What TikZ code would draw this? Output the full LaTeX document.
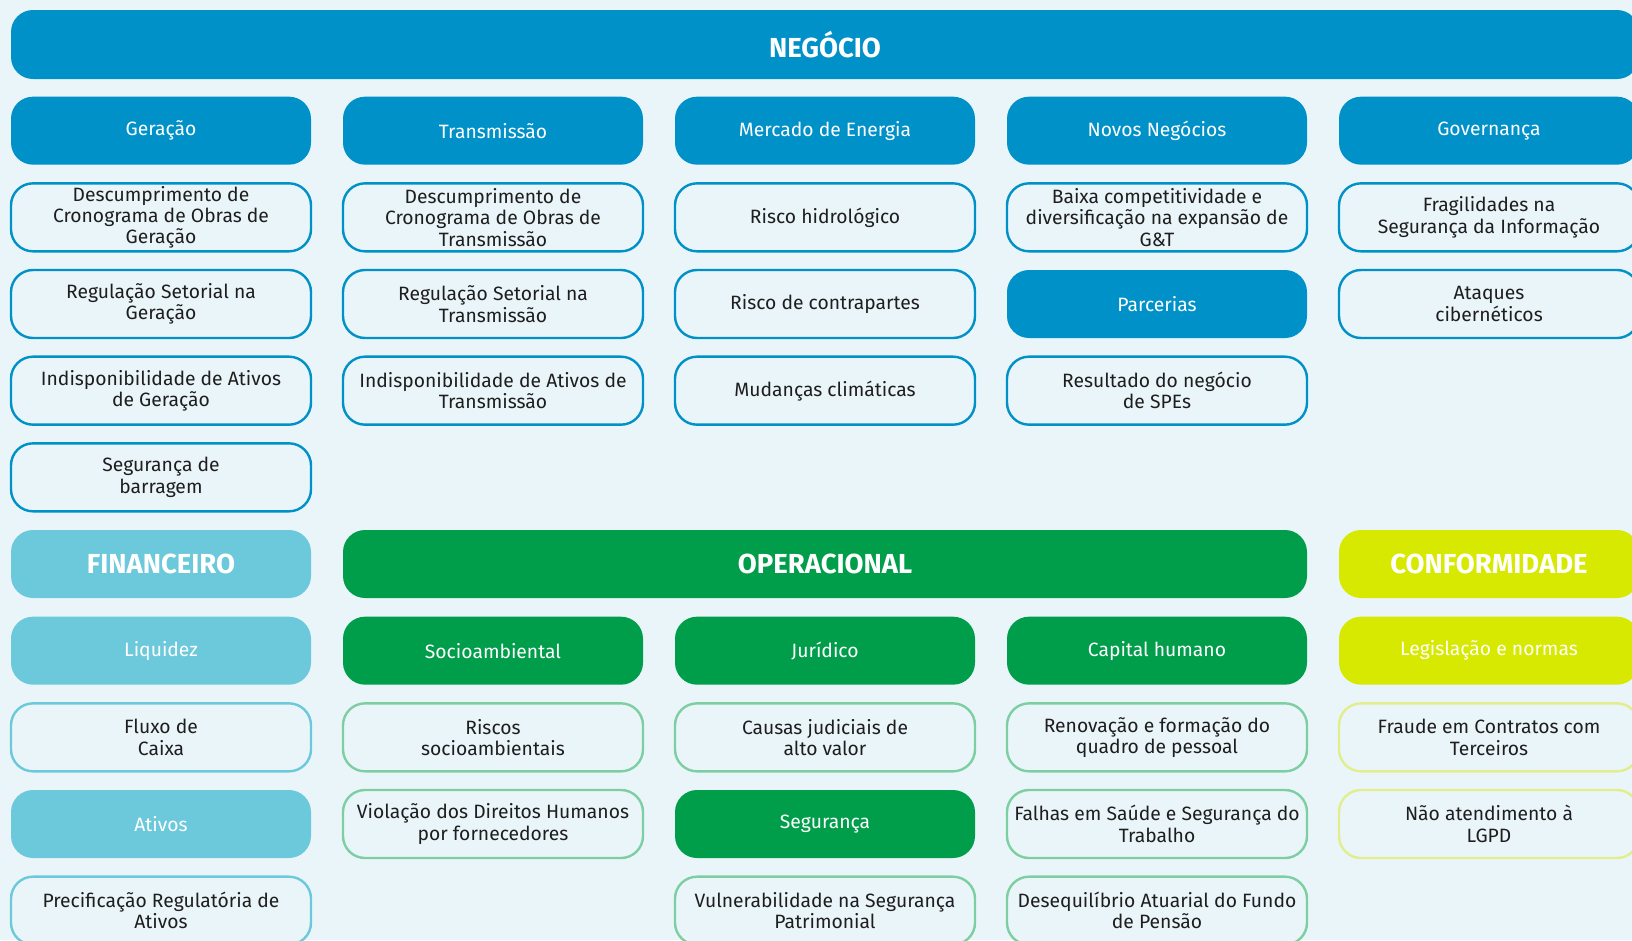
\documentclass[tikz,border=0pt]{standalone}
\usepackage{fontspec}
\setmainfont{Fira Sans}
\definecolor{bg}{HTML}{EAF5FA}
\definecolor{cblue}{HTML}{0091C8}
\definecolor{clblue}{HTML}{6CC9DB}
\definecolor{cgreen}{HTML}{009E4A}
\definecolor{clgreen}{HTML}{7DCFA2}
\definecolor{cyel}{HTML}{D7E900}
\definecolor{clyel}{HTML}{E2EE8C}
\definecolor{ctext}{HTML}{1E1E1E}
\tikzset{
  base/.style={rounded corners=22pt, minimum width=300pt, minimum height=68pt, inner sep=0pt, align=center, font=\fontsize{19.3}{21.4}\selectfont},
  head/.style={base, font=\fontsize{27.5}{29}\selectfont\bfseries, text=white},
  catB/.style={base, fill=cblue, text=white},
  catF/.style={base, fill=clblue, text=white},
  catO/.style={base, fill=cgreen, text=white},
  catC/.style={base, fill=cyel, text=white},
  itB/.style={base, draw=cblue, line width=2.4pt, fill=bg, text=ctext},
  itF/.style={base, draw=clblue, line width=2.4pt, fill=bg, text=ctext},
  itO/.style={base, draw=clgreen, line width=2.4pt, fill=bg, text=ctext},
  itC/.style={base, draw=clyel, line width=2.4pt, fill=bg, text=ctext},
}
\begin{document}
\begin{tikzpicture}[x=1pt,y=-1pt]
\useasboundingbox (0,0) rectangle (1632,940);
\clip (0,0) rectangle (1632,940);
\fill[bg] (0,0) rectangle (1632,940);
% NEGOCIO
\node[head, fill=cblue, minimum width=1628pt, minimum height=69pt] (neg) at (825,44.5) {NEGÓCIO};
\node[catB] (ger) at (161,130.67) {Geração};
\node[catB] (tra) at (493,130.67) {Transmissão};
\node[catB] (mer) at (825,130.67) {Mercado de Energia};
\node[catB] (nov) at (1157,130.67) {Novos Negócios};
\node[catB] (gov) at (1489,130.67) {Governança};
% Geracao column
\node[itB] (g1) at (161,217.33) {Descumprimento de\\Cronograma de Obras de\\Geração};
\node[itB] (g2) at (161,304) {Regulação Setorial na\\Geração};
\node[itB] (g3) at (161,390.67) {Indisponibilidade de Ativos\\de Geração};
\node[itB] (g4) at (161,477.33) {Segurança de\\barragem};
% Transmissao
\node[itB] (t1) at (493,217.33) {Descumprimento de\\Cronograma de Obras de\\Transmissão};
\node[itB] (t2) at (493,304) {Regulação Setorial na\\Transmissão};
\node[itB] (t3) at (493,390.67) {Indisponibilidade de Ativos de\\Transmissão};
% Mercado
\node[itB] (m1) at (825,217.33) {Risco hidrológico};
\node[itB] (m2) at (825,304) {Risco de contrapartes};
\node[itB] (m3) at (825,390.67) {Mudanças climáticas};
% Novos
\node[itB] (n1) at (1157,217.33) {Baixa competitividade e\\diversificação na expansão de\\G\&T};
\node[catB] (n2) at (1157,304) {Parcerias};
\node[itB] (n3) at (1157,390.67) {Resultado do negócio\\de SPEs};
% Governanca
\node[itB] (v1) at (1489,217.33) {Fragilidades na\\Segurança da Informação};
\node[itB] (v2) at (1489,304) {Ataques\\cibernéticos};
% FINANCEIRO
\node[head, fill=clblue] (fin) at (161,564) {FINANCEIRO};
\node[catF] (liq) at (161,650.67) {Liquidez};
\node[itF] (f1) at (161,737.33) {Fluxo de\\Caixa};
\node[catF] (atv) at (161,824) {Ativos};
\node[itF] (f2) at (161,910.67) {Precificação Regulatória de\\Ativos};
% OPERACIONAL
\node[head, fill=cgreen, minimum width=964pt] (ope) at (825,564) {OPERACIONAL};
\node[catO] (soc) at (493,650.67) {Socioambiental};
\node[catO] (jur) at (825,650.67) {Jurídico};
\node[catO] (cap) at (1157,650.67) {Capital humano};
\node[itO] (s1) at (493,737.33) {Riscos\\socioambientais};
\node[itO] (s2) at (493,824) {Violação dos Direitos Humanos\\por fornecedores};
\node[itO] (j1) at (825,737.33) {Causas judiciais de\\alto valor};
\node[catO] (seg) at (825,824) {Segurança};
\node[itO] (j2) at (825,910.67) {Vulnerabilidade na Segurança\\Patrimonial};
\node[itO] (c1) at (1157,737.33) {Renovação e formação do\\quadro de pessoal};
\node[itO] (c2) at (1157,824) {Falhas em Saúde e Segurança do\\Trabalho};
\node[itO] (c3) at (1157,910.67) {Desequilíbrio Atuarial do Fundo\\de Pensão};
% CONFORMIDADE
\node[head, fill=cyel] (con) at (1489,564) {CONFORMIDADE};
\node[catC] (leg) at (1489,650.67) {Legislação e normas};
\node[itC] (k1) at (1489,737.33) {Fraude em Contratos com\\Terceiros};
\node[itC] (k2) at (1489,824) {Não atendimento à\\LGPD};
\end{tikzpicture}
\end{document}
